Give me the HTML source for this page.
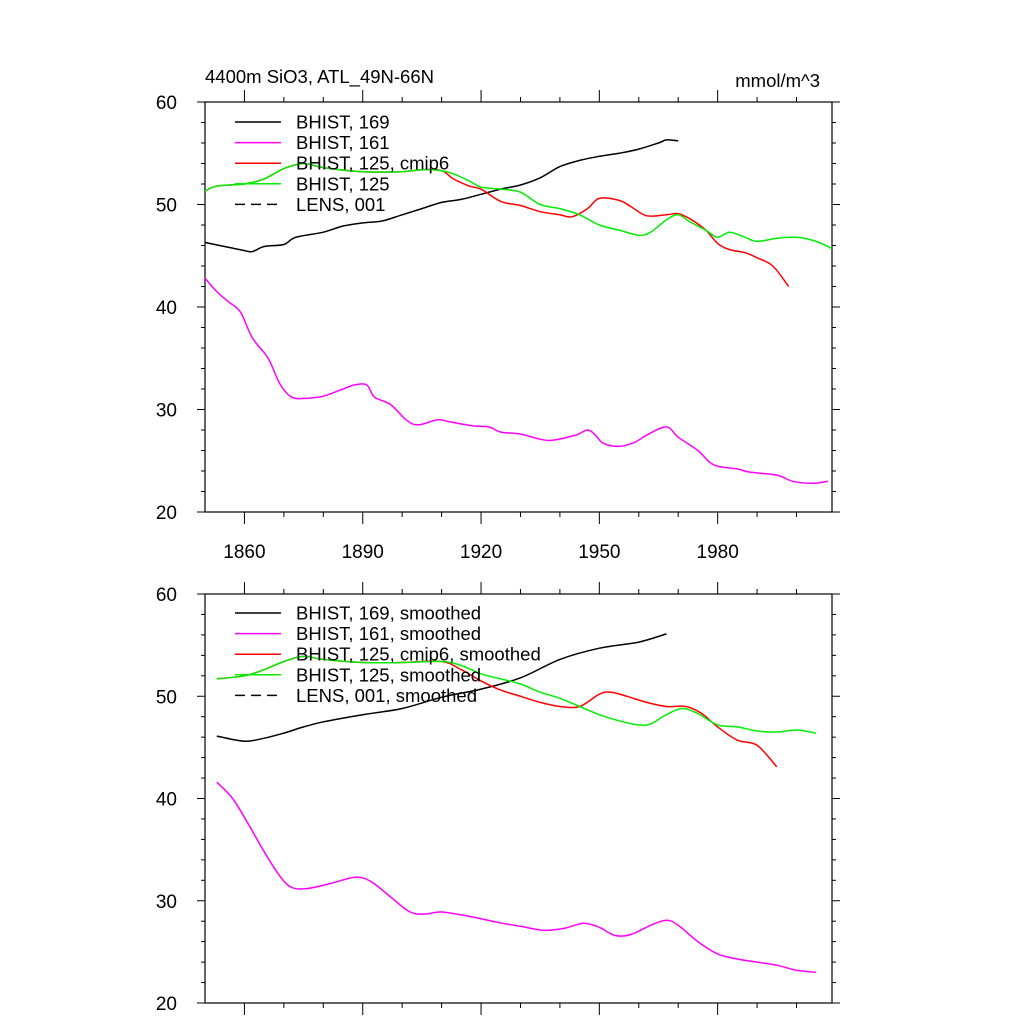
<!DOCTYPE html>
<html><head><meta charset="utf-8"><style>
body{margin:0;background:#fff;}
svg{display:block;font-family:"Liberation Sans",sans-serif;}
</style></head><body>
<svg id="c" width="1024" height="1024" viewBox="0 0 1024 1024" xmlns="http://www.w3.org/2000/svg">
<text x="205" y="83" font-size="18.5">4400m SiO3, ATL_49N-66N</text>
<text x="820" y="87" font-size="18.5" text-anchor="end">mmol/m^3</text>
</svg>
<script>
const xTicks=[1860,1890,1920,1950,1980];
const yTicks=[20,30,40,50,60];
const blkY=[1850,1855,1860,1862,1865,1870,1873,1880,1885,1890,1895,1900,1905,1910,1915,1920,1925,1930,1935,1940,1945,1950,1955,1960,1965,1967,1970];
const blkV=[46.3,45.9,45.5,45.4,45.9,46.1,46.8,47.3,47.9,48.2,48.4,49.0,49.6,50.2,50.5,51.0,51.5,51.9,52.6,53.7,54.3,54.7,55.0,55.4,56.0,56.3,56.2];
const magY=[1850,1853,1856,1859,1862,1866,1869,1872,1876,1880,1885,1888,1891,1893,1897,1901,1904,1909,1912,1918,1922,1925,1930,1935,1938,1944,1947,1949,1951,1955,1959,1962,1967,1970,1975,1979,1985,1988,1995,1999,2004,2008];
const magV=[42.8,41.5,40.5,39.5,37.0,35.0,32.5,31.2,31.1,31.3,32.0,32.4,32.4,31.2,30.5,29.0,28.5,29.0,28.8,28.4,28.3,27.8,27.6,27.1,27.0,27.5,28.0,27.5,26.7,26.4,26.8,27.5,28.3,27.3,26.0,24.6,24.2,23.9,23.6,23.0,22.8,23.0];
const redY=[1850,1853,1860,1865,1870,1875,1880,1890,1900,1905,1910,1913,1917,1920,1925,1930,1935,1940,1943,1947,1950,1955,1958,1962,1967,1970,1973,1977,1980,1983,1987,1990,1994,1998];
const redV=[51.3,51.8,52.0,52.5,53.5,54.0,53.6,53.2,53.2,53.4,53.3,52.5,51.8,51.5,50.3,49.9,49.3,49.0,48.8,49.6,50.6,50.4,49.8,48.9,49.0,49.1,48.6,47.5,46.2,45.6,45.3,44.8,44.0,42.0];
const grnY=[1850,1853,1860,1865,1870,1875,1880,1890,1900,1905,1910,1913,1917,1920,1925,1930,1935,1940,1945,1950,1955,1960,1963,1967,1970,1973,1977,1980,1983,1987,1990,1995,2000,2005,2009];
const grnV=[51.3,51.8,52.0,52.5,53.5,54.0,53.6,53.2,53.2,53.4,53.3,53.0,52.3,51.7,51.5,51.2,50.0,49.6,49.0,48.0,47.5,47.0,47.3,48.5,49.0,48.3,47.5,46.8,47.3,46.8,46.4,46.7,46.8,46.4,45.7];
const sBlkY=[1853,1860,1865,1870,1875,1880,1890,1900,1910,1920,1930,1940,1950,1960,1967];
const sBlkV=[46.1,45.6,45.9,46.4,47.0,47.5,48.2,48.8,49.9,50.7,51.8,53.6,54.7,55.3,56.1];
const sMagY=[1853,1857,1861,1865,1869,1872,1876,1882,1888,1892,1897,1902,1906,1910,1918,1924,1930,1936,1941,1946,1950,1954,1958,1963,1967,1970,1975,1980,1985,1990,1995,2000,2005];
const sMagV=[41.6,40.0,37.5,34.8,32.4,31.3,31.2,31.7,32.3,31.9,30.4,28.9,28.7,28.9,28.4,27.9,27.5,27.1,27.3,27.8,27.4,26.6,26.7,27.6,28.1,27.6,26.0,24.8,24.3,24.0,23.7,23.2,23.0];
const sRedY=[1853,1860,1865,1870,1875,1880,1890,1900,1910,1915,1920,1925,1930,1935,1940,1945,1950,1953,1957,1962,1967,1972,1976,1980,1985,1990,1995];
const sRedV=[51.7,52.0,52.6,53.4,53.9,53.6,53.3,53.3,53.4,52.6,51.5,50.6,50.0,49.4,49.0,49.0,50.2,50.4,50.0,49.4,49.0,49.0,48.3,47.0,45.7,45.2,43.1];
const sGrnY=[1853,1860,1865,1870,1875,1880,1890,1900,1910,1915,1920,1925,1930,1935,1940,1945,1950,1955,1960,1963,1967,1971,1975,1980,1985,1990,1995,2000,2005];
const sGrnV=[51.7,52.0,52.6,53.4,53.9,53.6,53.3,53.3,53.4,53.0,52.2,51.7,51.2,50.4,49.8,49.0,48.2,47.6,47.2,47.3,48.2,48.8,48.3,47.2,47.0,46.6,46.5,46.7,46.4];
const labelsTop=["BHIST, 169","BHIST, 161","BHIST, 125, cmip6","BHIST, 125","LENS, 001"];
const labelsBot=["BHIST, 169, smoothed","BHIST, 161, smoothed","BHIST, 125, cmip6, smoothed","BHIST, 125, smoothed","LENS, 001, smoothed"];
const colors=["#000","#ff00ff","#ff0000","#00ee00","#000"];

const svg=document.getElementById('c');
const NS="http://www.w3.org/2000/svg";
function mk(t,a,p){const e=document.createElementNS(NS,t);for(const k in a)e.setAttribute(k,a[k]);(p||svg).appendChild(e);return e;}
const X0=205,X1=832,Y0=1850,Y1=2009;
function xs(y){return X0+(y-Y0)/(Y1-Y0)*(X1-X0);}
function smoothPath(pts){let d='M'+pts[0][0].toFixed(1)+','+pts[0][1].toFixed(1);
  for(let i=0;i<pts.length-1;i++){const p0=pts[Math.max(0,i-1)],p1=pts[i],p2=pts[i+1],p3=pts[Math.min(pts.length-1,i+2)];
    const c1x=p1[0]+(p2[0]-p0[0])/6,c1y=p1[1]+(p2[1]-p0[1])/6,c2x=p2[0]-(p3[0]-p1[0])/6,c2y=p2[1]-(p3[1]-p1[1])/6;
    d+='C'+c1x.toFixed(1)+','+c1y.toFixed(1)+' '+c2x.toFixed(1)+','+c2y.toFixed(1)+' '+p2[0].toFixed(1)+','+p2[1].toFixed(1);}
  return d;}
function panel(top,bot,name,showX,series,labels,legTop){
  const g=mk('g',{});
  
  
  const ys=v=>bot-(v-20)/40*(bot-top);
  const frame=mk('rect',{x:X0,y:top,width:X1-X0,height:bot-top,fill:'none',stroke:'#000','stroke-width':1.2},g);
  
  
  for(let yr=1860;yr<=2000;yr+=10){const x=xs(yr);const L=xTicks.includes(yr)?12:5;
    mk('line',{x1:x,x2:x,y1:bot,y2:bot+L,stroke:'#000'},g);mk('line',{x1:x,x2:x,y1:top,y2:top-L,stroke:'#000'},g);}
  for(let v=20;v<=60;v+=2){const y=ys(v);const L=v%10===0?8:4;
    mk('line',{x1:X0,x2:X0-L,y1:y,y2:y,stroke:'#000'},g);mk('line',{x1:X1,x2:X1+L,y1:y,y2:y,stroke:'#000'},g);}
  yTicks.forEach(v=>{const t=mk('text',{x:177,y:ys(v)+7,'font-size':19,'text-anchor':'end'},g);t.textContent=v;
    
    });
  if(showX)xTicks.forEach(yr=>{const t=mk('text',{x:xs(yr),y:bot+46,'font-size':19,'text-anchor':'middle'},g);t.textContent=yr;
    
    });
  series.forEach((s,i)=>{const pts=s[0].map((yr,j)=>[xs(yr),ys(s[1][j])]);
    const p=mk('path',{d:smoothPath(pts),fill:'none',stroke:colors[i],'stroke-width':1.5},g);
    
    });
  labels.forEach((lb,i)=>{const y=legTop+i*20.6;
    const l=mk('line',{x1:235,x2:281,y1:y,y2:y,stroke:colors[i],'stroke-width':1.5,'stroke-dasharray':i===4?'10,6':'none'},g);
    
    
    const t=mk('text',{x:296,y:y+6.5,'font-size':18.5},g);t.textContent=lb;
    
    });
}
panel(102,512,'top-panel',true,[[blkY,blkV],[magY,magV],[redY,redV],[grnY,grnV]],labelsTop,122);
panel(594,1003,'bottom-panel',false,[[sBlkY,sBlkV],[sMagY,sMagV],[sRedY,sRedV],[sGrnY,sGrnV]],labelsBot,613);
</script>
</body></html>
